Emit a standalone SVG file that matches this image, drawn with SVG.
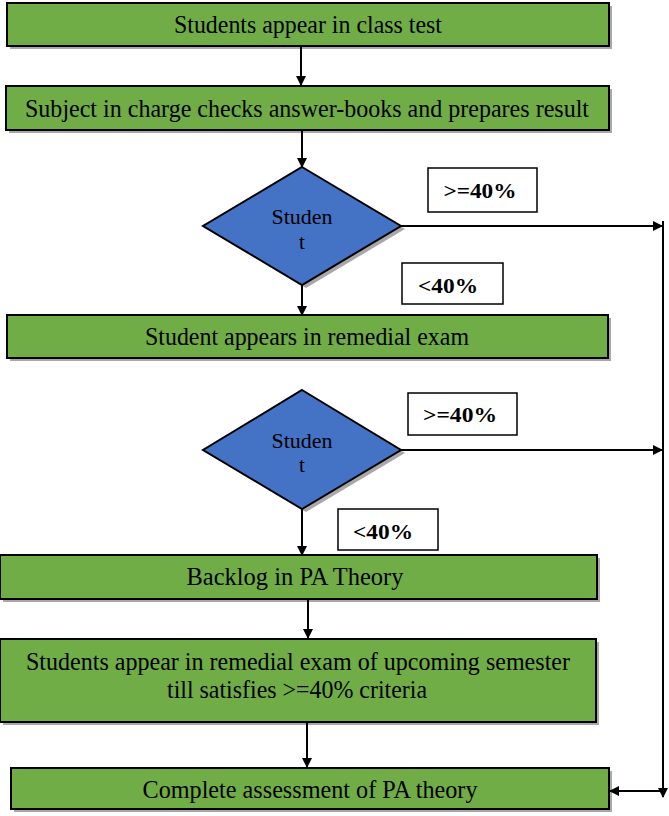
<svg xmlns="http://www.w3.org/2000/svg" width="669" height="816" viewBox="0 0 669 816">
<defs>
<style>
.box{fill:#70AD47;stroke:#000;stroke-width:2}
.dia{fill:#4472C4;stroke:#000;stroke-width:2}
.sh{fill:#a8a8a8}
.lbl{fill:#fff;stroke:#000;stroke-width:1.5}
.t{font-family:"Liberation Serif","Times New Roman",serif;font-size:26px;fill:#000;text-anchor:middle}
.td{font-family:"Liberation Serif","Times New Roman",serif;font-size:21px;fill:#000;text-anchor:middle}
.tb{font-family:"Liberation Serif","Times New Roman",serif;font-size:22px;font-weight:bold;fill:#000;text-anchor:middle}
.ln{stroke:#000;stroke-width:2;fill:none}
</style>
<marker id="ah" markerWidth="10" markerHeight="10" refX="9" refY="5" orient="auto" markerUnits="userSpaceOnUse">
<path d="M0,0 L10,5 L0,10 Z" fill="#000"/>
</marker>
</defs>
<rect width="669" height="816" fill="#fff"/>

<g id="n1">
<rect class="sh" x="10" y="6" width="602" height="43"/>
<rect class="box" x="7" y="3" width="602" height="43"/>
<text class="t" x="308" y="33" textLength="268" lengthAdjust="spacingAndGlyphs">Students appear in class test</text>
</g>
<g id="n2">
<rect class="sh" x="9" y="89" width="603" height="44"/>
<rect class="box" x="6" y="86" width="603" height="44"/>
<text class="t" x="307" y="117" textLength="564" lengthAdjust="spacingAndGlyphs">Subject in charge checks answer-books and prepares result</text>
</g>
<g id="d1">
<polygon class="sh" points="306,170 405,229 306,288 207,229"/>
<polygon class="dia" points="302,167 401,226 302,285 203,226"/>
<text class="td" x="302" y="224" textLength="61" lengthAdjust="spacingAndGlyphs">Studen</text>
<text class="td" x="302" y="249">t</text>
</g>
<g id="l1">
<rect class="lbl" x="428" y="168" width="109" height="44"/>
<text class="tb" x="480" y="198" textLength="73" lengthAdjust="spacingAndGlyphs">&gt;=40%</text>
</g>
<g id="l2">
<rect class="lbl" x="402" y="263" width="101" height="41"/>
<text class="tb" x="448" y="293" textLength="60" lengthAdjust="spacingAndGlyphs">&lt;40%</text>
</g>
<g id="n3">
<rect class="sh" x="10" y="318" width="601" height="43"/>
<rect class="box" x="7" y="315" width="601" height="43"/>
<text class="t" x="307" y="345" textLength="324" lengthAdjust="spacingAndGlyphs">Student appears in remedial exam</text>
</g>
<g id="d2">
<polygon class="sh" points="306,393 405,453 306,512 207,453"/>
<polygon class="dia" points="302,390 401,450 302,509 203,450"/>
<text class="td" x="302" y="448" textLength="61" lengthAdjust="spacingAndGlyphs">Studen</text>
<text class="td" x="302" y="472">t</text>
</g>
<g id="l3">
<rect class="lbl" x="408" y="393" width="109" height="42"/>
<text class="tb" x="460" y="422" textLength="74" lengthAdjust="spacingAndGlyphs">&gt;=40%</text>
</g>
<g id="l4">
<rect class="lbl" x="338" y="509" width="100" height="41"/>
<text class="tb" x="383" y="539" textLength="60" lengthAdjust="spacingAndGlyphs">&lt;40%</text>
</g>
<g id="n4">
<rect class="sh" x="3" y="558" width="597" height="44"/>
<rect class="box" x="0" y="555" width="597" height="44"/>
<text class="t" x="295" y="585" textLength="217" lengthAdjust="spacingAndGlyphs">Backlog in PA Theory</text>
</g>
<g id="n5">
<rect class="sh" x="3" y="642" width="596" height="83"/>
<rect class="box" x="0" y="639" width="596" height="83"/>
<text class="t" x="298" y="670" textLength="544" lengthAdjust="spacingAndGlyphs">Students appear in remedial exam of upcoming semester</text>
<text class="t" x="297" y="698" textLength="260" lengthAdjust="spacingAndGlyphs">till satisfies &gt;=40% criteria</text>
</g>
<g id="n6">
<rect class="sh" x="14" y="771" width="598" height="41"/>
<rect class="box" x="11" y="768" width="598" height="41"/>
<text class="t" x="310" y="798" textLength="335" lengthAdjust="spacingAndGlyphs">Complete assessment of PA theory</text>
</g>

<g id="connectors">
<line class="ln" x1="301" y1="46" x2="301" y2="85" marker-end="url(#ah)"/>
<line class="ln" x1="302" y1="130" x2="302" y2="167" marker-end="url(#ah)"/>
<line class="ln" x1="302" y1="285" x2="302" y2="315" marker-end="url(#ah)"/>
<line class="ln" x1="401" y1="226" x2="662" y2="226" marker-end="url(#ah)"/>
<line class="ln" x1="302" y1="509" x2="302" y2="555" marker-end="url(#ah)"/>
<line class="ln" x1="401" y1="450" x2="662" y2="450" marker-end="url(#ah)"/>
<line class="ln" x1="663" y1="221" x2="663" y2="797" marker-end="url(#ah)"/>
<line class="ln" x1="663" y1="791" x2="610" y2="791" marker-end="url(#ah)"/>
<line class="ln" x1="308" y1="599" x2="308" y2="638" marker-end="url(#ah)"/>
<line class="ln" x1="307" y1="722" x2="307" y2="767" marker-end="url(#ah)"/>
</g>
</svg>
